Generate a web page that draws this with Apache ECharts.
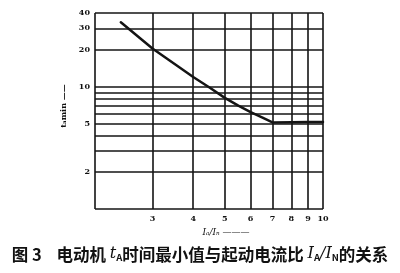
<!DOCTYPE html>
<html><head><meta charset="utf-8">
<script src="https://cdn.jsdelivr.net/npm/echarts@6/dist/echarts.min.js"></script>
<style>html,body{margin:0;padding:0;background:#fff}#c{width:400px;height:273px}</style>
</head><body><div id="c"></div>
<script>
// I_A/I_N ratio vs t_A min
const ratio = [2.4, 3, 3.5, 4, 4.5, 5, 5.5, 6, 6.5, 7, 8, 9, 10];
const tAmin = [33.6, 20.5, 15.4, 12, 9.8, 8.1, 7.0, 6.2, 5.6, 5.1, 5.12, 5.13, 5.15];
const xGrid = [2, 3, 4, 5, 6, 7, 8, 9, 10];
const yGrid = [1, 2, 3, 4, 5, 6, 7, 8, 9, 10, 20, 30, 40];
const xLabels = [3, 4, 5, 6, 7, 8, 9, 10];
const yLabels = [2, 5, 10, 20, 30, 40];

const chart = echarts.init(document.getElementById('c'), null, {renderer: 'canvas'});
const lineCol = '#141414';
const gridMarks = xGrid.map(v => ({xAxis: v})).concat(yGrid.map(v => ({yAxis: v})));
chart.setOption({
  animation: false,
  backgroundColor: '#fff',
  grid: {left: 95, right: 77, top: 13, bottom: 64},
  xAxis: {
    type: 'log', logBase: 10, min: 2, max: 10,
    name: 'I\u2090/I\u2099 \u2014\u2014\u2014', nameLocation: 'middle', nameGap: 18,
    nameTextStyle: {fontFamily: 'DejaVu Serif', fontSize: 9, fontStyle: 'italic', color: '#111', padding: [0, 0, 0, 34]},
    axisLine: {show: false}, axisTick: {show: false}, splitLine: {show: false}, minorSplitLine: {show: false},
    axisLabel: {customValues: xLabels, formatter: v => String(Math.round(v)), fontFamily: 'DejaVu Serif', fontSize: 8, fontWeight: 'bold', color: '#111', margin: 6}
  },
  yAxis: {
    type: 'log', logBase: 10, min: 1, max: 40,
    name: 't\u2090min \u2014\u2014', nameLocation: 'middle', nameGap: 16, nameRotate: 90,
    nameTextStyle: {fontFamily: 'DejaVu Serif', fontSize: 8, fontWeight: 'bold', color: '#111', padding: [0, 0, 0, 10]},
    axisLine: {show: false}, axisTick: {show: false}, splitLine: {show: false}, minorSplitLine: {show: false},
    axisLabel: {customValues: yLabels, formatter: v => String(Math.round(v)), fontFamily: 'DejaVu Serif', fontSize: 8, fontWeight: 'bold', color: '#111', margin: 5}
  },
  series: [{
    type: 'line',
    data: ratio.map((x, i) => [x, tAmin[i]]),
    showSymbol: false, smooth: false,
    lineStyle: {color: lineCol, width: 2.5, join: 'round', cap: 'round'},
    markLine: {
      silent: true, symbol: 'none', label: {show: false},
      lineStyle: {color: lineCol, width: 1.6, type: 'solid'},
      data: gridMarks
    },
    z: 3
  }],
  graphic: [{
    type: 'text', left: 'center', top: 246,
    style: {
      rich: {
        a: {fontFamily: 'Noto Sans CJK SC', fontSize: 16.5, fontWeight: 'bold', fill: '#111'},
        s: {fontFamily: 'Noto Sans CJK SC', fontSize: 9.5, fontWeight: 'bold', fill: '#111', verticalAlign: 'bottom', padding: [7,0,0,0]},
        i: {fontFamily: 'DejaVu Serif', fontSize: 16, fontStyle: 'italic', fill: '#111'}
      },
      text: '{a|图 3    电动机 }{i|t}{s|A}{a|时间最小值与起动电流比 }{i|I}{s|A}{i|/I}{s|N}{a|的关系}'
    }
  }]
});
</script></body></html>
